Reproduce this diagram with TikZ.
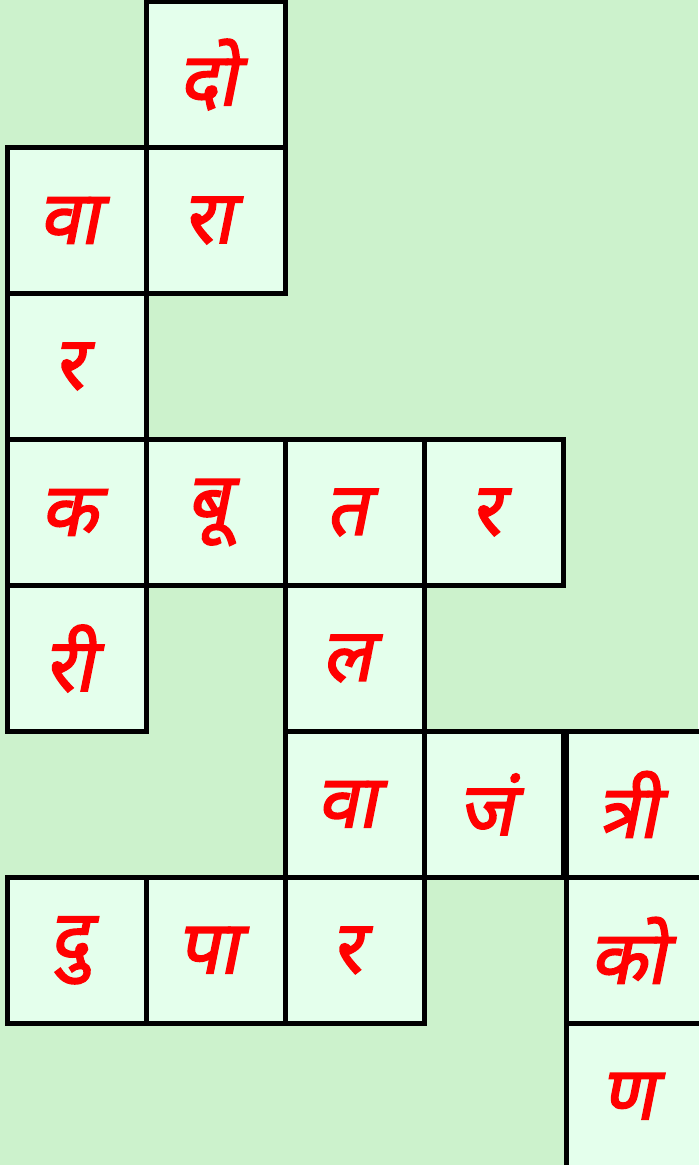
\documentclass[tikz,border=0pt]{standalone}
\usepackage{fontspec}
\newfontfamily\hindi[Script=Devanagari, FakeSlant=0.2, FakeBold=2.4]{Noto Sans}
\usepackage{xcolor}
\usepackage{tikz}
\usetikzlibrary{positioning}

\definecolor{bggreen}{HTML}{CCF2CC}
\definecolor{cellgreen}{HTML}{E4FFEC}
\definecolor{letterred}{HTML}{FF0000}

\begin{document}
\begin{tikzpicture}[
        x=0.02cm, y=0.02cm,
        node distance=0pt,
        cell/.style={rectangle, draw=black, line width=3.2pt, fill=cellgreen, minimum width=2.78cm, minimum height=2.92cm, outer sep=0pt, inner sep=0pt, text=letterred, font=\hindi\fontsize{42}{46}\selectfont, execute at begin node={\kern-9pt}}
    ]

    \fill [bggreen] (0,0) rectangle (698,-1165);
    \useasboundingbox (0,0) rectangle (698,-1165);

    \node (do) [cell] at (216,-74.5) {दो};
    \node (raa) [cell, below=of do] {रा};
    \node (vaa1) [cell, left=of raa] {वा};
    \node (ra1) [cell, below=of vaa1] {र};
    \node (ka) [cell, below=of ra1] {क};
    \node (buu) [cell, right=of ka] {बू};
    \node (ta) [cell, right=of buu] {त};
    \node (ra2) [cell, right=of ta] {र};
    \node (rii) [cell, below=of ka] {री};
    \node (la) [cell, below=of ta] {ल};

    \node (vaa2) [cell, below=of la] {वा};
    \node (jam) [cell, right=of vaa2] {जं};
    \node (trii) [cell, right=0.06cm of jam] {त्री};
    \node (ko) [cell, below=of trii] {को};
    \node (na) [cell, below=of ko] {ण};

    \node (ra3) [cell, below=of vaa2] {र};
    \node (paa) [cell, left=of ra3] {पा};
    \node (du) [cell, left=of paa] {दु};

\end{tikzpicture}
\end{document}
